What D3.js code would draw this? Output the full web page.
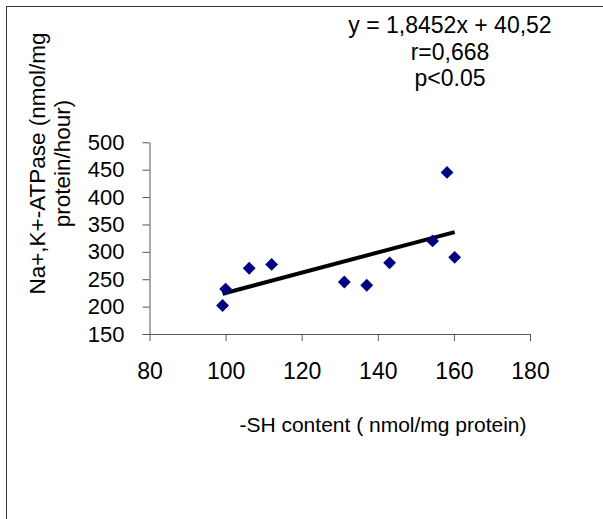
<!DOCTYPE html>
<html>
<head>
<meta charset="utf-8">
<script src="https://cdn.jsdelivr.net/npm/d3@7"></script>
<style>
    body { margin: 0; background: white; }
    text { font-family: "Liberation Sans", Arial, sans-serif; fill: black; }
</style>
</head>
<body>
<div id="chart"></div>
<script>
// data
let shContent = [99.2, 100, 106.2, 112.1, 131.2, 137.1, 143.1, 154.4, 158.2, 160.2];
let atpase = [202, 232, 270, 277, 245, 239, 280, 320, 445, 290];
let xTicks = [80, 100, 120, 140, 160, 180];
let yTicks = [150, 200, 250, 300, 350, 400, 450, 500];
let equationLines = ["y = 1,8452x + 40,52", "r=0,668", "p<0.05"];
let slope = 1.8452,
    intercept = 40.52;

let width = 603,
    height = 519;

let svg = d3.select("#chart")
    .append("svg")
    .attr("width", width)
    .attr("height", height);

// frame (only top and left show in the picture)
svg.append("rect")
    .attr("x", 6.5)
    .attr("y", 6.5)
    .attr("width", 700)
    .attr("height", 700)
    .attr("fill", "white")
    .attr("stroke", "#333")
    .attr("stroke-width", 1);

let x = d3.scaleLinear().domain([80, 180]).range([149.5, 530]);
let y = d3.scaleLinear().domain([150, 500]).range([334, 142.3]);

// x axis
let xAxis = svg.append("g")
    .attr("transform", "translate(0,334)")
    .call(d3.axisBottom(x).tickValues(xTicks).tickSize(7).tickSizeOuter(0).tickPadding(22));

// y axis
let yAxis = svg.append("g")
    .attr("transform", "translate(149.5,0)")
    .call(d3.axisLeft(y).tickValues(yTicks).tickSize(7).tickSizeOuter(0).tickPadding(18));

svg.selectAll(".domain, .tick line")
    .attr("stroke", "#555")
    .attr("stroke-width", 1);

xAxis.selectAll("text")
    .style("font-size", "23px")
    .style("font-family", "Liberation Sans, Arial, sans-serif")
    .attr("fill", "black");

yAxis.selectAll("text")
    .style("font-size", "22px")
    .style("font-family", "Liberation Sans, Arial, sans-serif")
    .attr("fill", "black");

// trend line over the data range
let xRange = d3.extent(shContent);
svg.append("line")
    .attr("x1", x(xRange[0]))
    .attr("y1", y(slope * xRange[0] + intercept))
    .attr("x2", x(xRange[1]))
    .attr("y2", y(slope * xRange[1] + intercept))
    .attr("stroke", "black")
    .attr("stroke-width", 4);

// diamond markers
let diamond = d3.symbol().type(d3.symbolDiamond2).size(105);
svg.selectAll(".point")
    .data(shContent)
    .enter()
    .append("path")
    .attr("class", "point")
    .attr("d", diamond)
    .attr("transform", (d, i) => "translate(" + x(d) + "," + y(atpase[i]) + ")")
    .attr("fill", "#000080");

// equation text
svg.selectAll(".eq")
    .data(equationLines)
    .enter()
    .append("text")
    .attr("class", "eq")
    .attr("x", 450)
    .attr("y", (d, i) => 33 + i * 26.7)
    .attr("text-anchor", "middle")
    .style("font-size", "23px")
    .text(d => d);

// axis titles
svg.append("text")
    .attr("x", 383)
    .attr("y", 432)
    .attr("text-anchor", "middle")
    .style("font-size", "21px")
    .text("-SH content ( nmol/mg protein)");

let yTitle = svg.append("text")
    .attr("transform", "translate(45,163.5) rotate(-90)")
    .attr("text-anchor", "middle")
    .style("font-size", "22.5px");

yTitle.append("tspan")
    .attr("x", 0)
    .attr("y", 0)
    .text("Na+,K+-ATPase (nmol/mg");

yTitle.append("tspan")
    .attr("x", 0)
    .attr("y", 24.5)
    .text("protein/hour)");
</script>
</body>
</html>
